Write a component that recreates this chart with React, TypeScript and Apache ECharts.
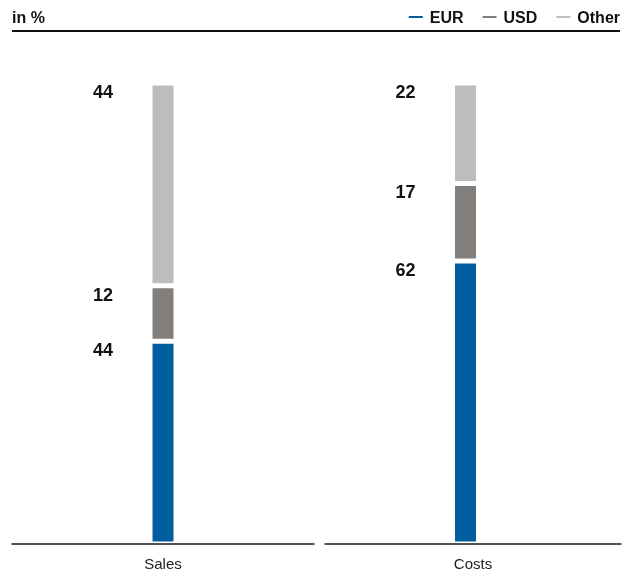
import React, { useEffect, useRef } from "react";
import * as echarts from "echarts";

const categories = ["Sales", "Costs"];
const seriesNames = ["EUR", "USD", "Other"];
const eurValues = [44, 62];
const usdValues = [12, 17];
const otherValues = [44, 22];
const colors = ["#005E9E", "#827E7B", "#BEBDBC"];

const FONT = "'Liberation Sans', Arial, Helvetica, sans-serif";

export default function App() {
  const ref = useRef<HTMLDivElement>(null);
  useEffect(() => {
    if (!ref.current) return;
    const chart = echarts.init(ref.current, undefined, { renderer: "svg" });
    const valueSets = [eurValues, usdValues, otherValues];
    const totals = categories.map((_, i) => valueSets.reduce((s, v) => s + v[i], 0));

    const series: any[] = [];
    categories.forEach((cat, ci) => {
      seriesNames.forEach((name, si) => {
        series.push({
          type: "bar",
          name,
          xAxisIndex: ci,
          yAxisIndex: ci,
          stack: "s" + ci,
          barWidth: 26,
          data: [valueSets[si][ci]],
          itemStyle: { color: colors[si], borderColor: "#ffffff", borderWidth: 2.5 },
          label: {
            show: true,
            position: [-37, 9],
            align: "right",
            verticalAlign: "middle",
            fontFamily: FONT,
            fontWeight: "bold",
            fontSize: 18,
            color: "#111111",
            formatter: "{c}",
          },
        });
      });
    });

    const axisLineStyle = { show: true, lineStyle: { color: "#1a1a1a", width: 1.5 } };

    chart.setOption({
      animation: false,
      title: {
        text: "in %",
        left: 12,
        top: 9,
        padding: 0,
        textStyle: { fontFamily: FONT, fontWeight: "bold", fontSize: 16, color: "#111111" },
      },
      legend: {
        right: 5,
        top: 9,
        padding: 0,
        itemWidth: 14,
        itemHeight: 2,
        itemGap: 19,
        icon: "rect",
        data: seriesNames,
        itemStyle: { borderWidth: 0 },
        textStyle: { fontFamily: FONT, fontWeight: "bold", fontSize: 16, color: "#111111", padding: [0, 0, 0, 2] },
      },
      graphic: [
        {
          type: "line",
          shape: { x1: 12, y1: 31, x2: 620, y2: 31 },
          style: { stroke: "#111111", lineWidth: 2 },
        },
      ],
      grid: [
        { left: 12, right: 311, top: 83, bottom: 29 },
        { left: 310, right: 4, top: 83, bottom: 29 },
        { left: 325, right: 4, top: 83, bottom: 29 },
      ],
      xAxis: [
        {
          type: "category",
          gridIndex: 0,
          data: [categories[0]],
          z: 5,
          axisLine: axisLineStyle,
          axisTick: { show: false },
          axisLabel: { margin: 12, fontFamily: FONT, fontSize: 15, color: "#222222" },
        },
        {
          type: "category",
          gridIndex: 1,
          data: [categories[1]],
          axisLine: { show: false },
          axisTick: { show: false },
          axisLabel: { show: false },
        },
        {
          type: "category",
          gridIndex: 2,
          data: [categories[1]],
          z: 5,
          axisLine: axisLineStyle,
          axisTick: { show: false },
          axisLabel: { margin: 12, fontFamily: FONT, fontSize: 15, color: "#222222" },
        },
      ],
      yAxis: [0, 1, 2].map((gi) => ({
        type: "value",
        gridIndex: gi,
        min: 0,
        max: gi < 2 ? totals[gi] : 100,
        show: false,
        splitLine: { show: false },
      })),
      series,
    });
    return () => chart.dispose();
  }, []);
  return (
    <div
      ref={ref}
      style={{ position: "fixed", left: 0, top: 0, width: 625, height: 573 }}
    />
  );
}
